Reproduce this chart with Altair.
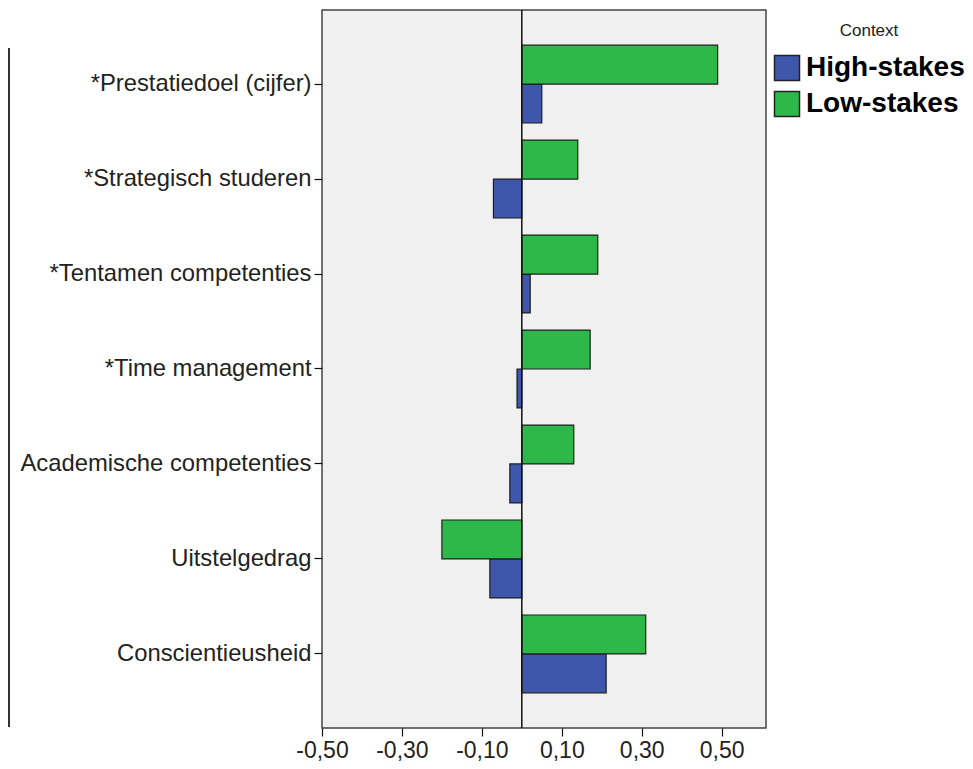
import altair as alt
import pandas as pd

categories = [
    "*Prestatiedoel (cijfer)",
    "*Strategisch studeren",
    "*Tentamen competenties",
    "*Time management",
    "Academische competenties",
    "Uitstelgedrag",
    "Conscientieusheid",
]
high_stakes = [0.05, -0.071, 0.021, -0.012, -0.03, -0.08, 0.211]
low_stakes = [0.49, 0.14, 0.19, 0.171, 0.13, -0.20, 0.31]
x_ticks = [-0.5, -0.3, -0.1, 0.1, 0.3, 0.5]

rows = []
for c, h, l in zip(categories, high_stakes, low_stakes):
    rows.append({"cat": c, "Context": "High-stakes", "value": h})
    rows.append({"cat": c, "Context": "Low-stakes", "value": l})
df = pd.DataFrame(rows)

FONT = "Liberation Sans"

bars = alt.Chart(df).mark_bar(stroke="#1e1e1e", strokeWidth=1.2).encode(
    y=alt.Y(
        "cat:N",
        sort=categories,
        title=None,
        scale=alt.Scale(paddingInner=0.18, paddingOuter=0.37),
        axis=alt.Axis(
            domain=False,
            tickSize=8,
            tickColor="#111",
            tickWidth=1.2,
            labelFont=FONT,
            labelFontSize=23.8,
            labelColor="#222",
            labelPadding=3,
            labelLimit=400,
        ),
    ),
    yOffset=alt.YOffset(
        "Context:N",
        scale=alt.Scale(domain=["Low-stakes", "High-stakes"], paddingInner=0, paddingOuter=0),
    ),
    x=alt.X(
        "value:Q",
        title=None,
        scale=alt.Scale(domain=[-0.5, 0.611], nice=False, zero=False),
        axis=alt.Axis(
            values=x_ticks,
            domain=False,
            grid=False,
            tickSize=8,
            tickColor="#111",
            tickWidth=1.2,
            labelFont=FONT,
            labelFontSize=23,
            labelColor="#222",
            labelPadding=3,
            labelFlush=False,
            labelOverlap=False,
            labelExpr="(datum.value < 0 ? '-' : '') + replace(format(abs(datum.value), '.2f'), '.', ',')",
        ),
    ),
    color=alt.Color(
        "Context:N",
        scale=alt.Scale(domain=["High-stakes", "Low-stakes"], range=["#3f57ab", "#2fb84a"]),
        legend=alt.Legend(
            title="Context",
            orient="none",
            legendX=451,
            legendY=13,
            titleFont=FONT,
            titleFontSize=17,
            titleFontWeight="normal",
            titleColor="#222",
            titleAnchor="middle",
            titlePadding=14,
            labelFont=FONT,
            labelFontSize=28,
            labelFontWeight="bold",
            labelColor="#000",
            labelOffset=5,
            labelLimit=400,
            symbolType="square",
            symbolSize=625,
            symbolStrokeColor="#222",
            symbolStrokeWidth=1.5,
            symbolOpacity=1,
            rowPadding=4,
        ),
    ),
)

zero_line = alt.Chart(pd.DataFrame({"z": [0]})).mark_rule(color="#111", strokeWidth=1.5).encode(
    x=alt.X("z:Q")
)

left_box = alt.Chart(pd.DataFrame({"a": [0]})).mark_rule(color="#333", strokeWidth=2).encode(
    x=alt.value(-313), y=alt.value(38), y2=alt.value(717)
)

chart = (
    alt.layer(bars, zero_line, left_box)
    .properties(
        width=444,
        height=718,
        padding={"left": 314, "top": 2, "right": 199, "bottom": 40},
        autosize=alt.AutoSizeParams(type="none"),
        background="white",
    )
    .configure_view(fill="#f0f0f0", stroke="#444", strokeWidth=1.5)
)

chart.save("out.html", embed_options={"renderer": "svg", "actions": False})
